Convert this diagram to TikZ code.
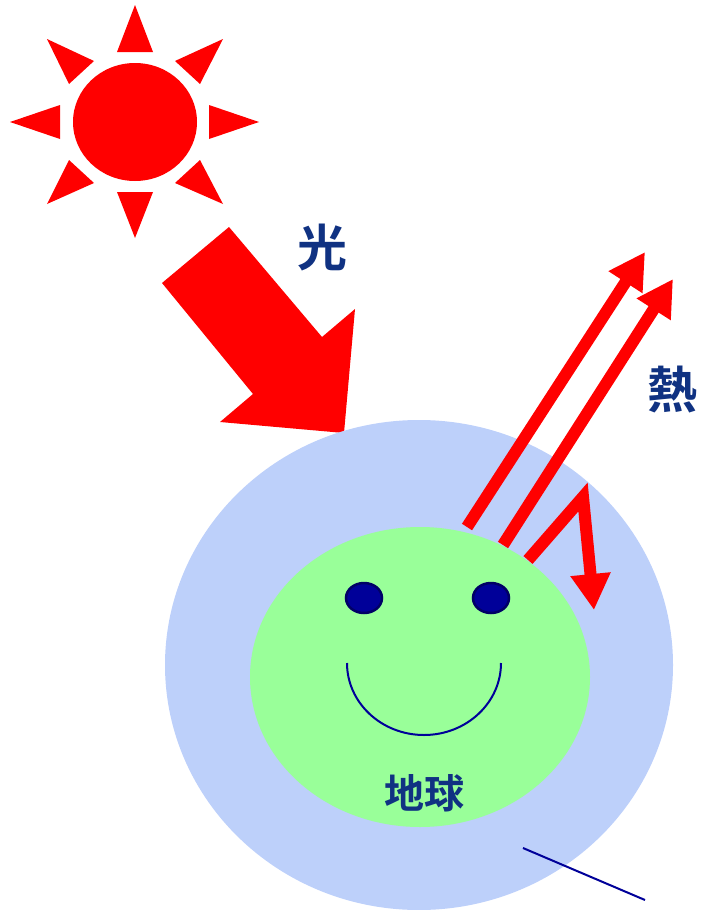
\documentclass[tikz,border=0pt]{standalone}
\usepackage{fontspec}
\newfontfamily\jpfont{Noto Sans CJK JP}[BoldFont=* Bold]
\usetikzlibrary{arrows.meta}
\definecolor{sunred}{RGB}{255,0,0}
\definecolor{airblue}{RGB}{189,208,250}
\definecolor{landgreen}{RGB}{153,255,153}
\definecolor{eyeblue}{RGB}{0,0,153}
\definecolor{eyerim}{RGB}{0,0,102}
\definecolor{labelblue}{RGB}{16,50,130}
\tikzset{
  heat/.style={draw=sunred, line width=12pt, line join=miter,
    -{Triangle[length=36pt,width=38pt]}},
  label/.style={text=labelblue, font=\jpfont\bfseries, inner sep=0pt}
}

\begin{document}
\begin{tikzpicture}[x=1pt, y=-1pt]
        \useasboundingbox (0,0) rectangle (702,910);

        % sun
        \fill[sunred] (135,122) ellipse[x radius=62, y radius=59];

        % rays
        \fill[sunred] (135,5) -- (117,52) -- (153,52) -- cycle;
        \fill[sunred] (135,238) -- (117,192) -- (153,192) -- cycle;
        \fill[sunred] (10,122) -- (60,105) -- (60,139) -- cycle;
        \fill[sunred] (259,122) -- (209,105) -- (209,139) -- cycle;
        \fill[sunred] (47,39) -- (94,61) -- (69,84) -- cycle;
        \fill[sunred] (223,39) -- (175,61) -- (200,84) -- cycle;
        \fill[sunred] (47,204) -- (94,183) -- (69,160) -- cycle;
        \fill[sunred] (223,204) -- (175,183) -- (200,160) -- cycle;

        % light arrow
        \fill[sunred] (229,227) -- (322,337) -- (355,309) -- (344,433)
                -- (220,422) -- (253,394) -- (162,283) -- cycle;
        \node[label, font=\jpfont\bfseries\fontsize{50}{50}\selectfont] (light) at (322,248) {光};

        % earth and atmosphere
        \fill[airblue] (419,665) ellipse[x radius=254, y radius=245];
        \fill[landgreen] (420,677) ellipse[x radius=170, y radius=150];

        % face
        \filldraw[fill=eyeblue, draw=eyerim, line width=2.5pt] (364,598) ellipse[x radius=18, y radius=15];
        \filldraw[fill=eyeblue, draw=eyerim, line width=2.5pt] (491,598) ellipse[x radius=18, y radius=15];
        \draw[eyeblue, line width=2pt] (347,663) arc[start angle=180, end angle=0, x radius=77, y radius=72];
        \node[label, font=\jpfont\bfseries\fontsize{40}{40}\selectfont] (earth) at (424,793) {地球};

        % heat
        \draw[heat] (467,527) -- (645,252);
        \draw[heat] (503,545) -- (673,279);
        \draw[heat] (528,560) -- (583,497) -- (594,610);
        \node[label, font=\jpfont\bfseries\fontsize{50}{50}\selectfont] (heatlabel) at (672,390) {熱};

        % pointer line
        \draw[eyeblue, line width=2pt] (523,848) -- (645,900);
\end{tikzpicture}
\end{document}
